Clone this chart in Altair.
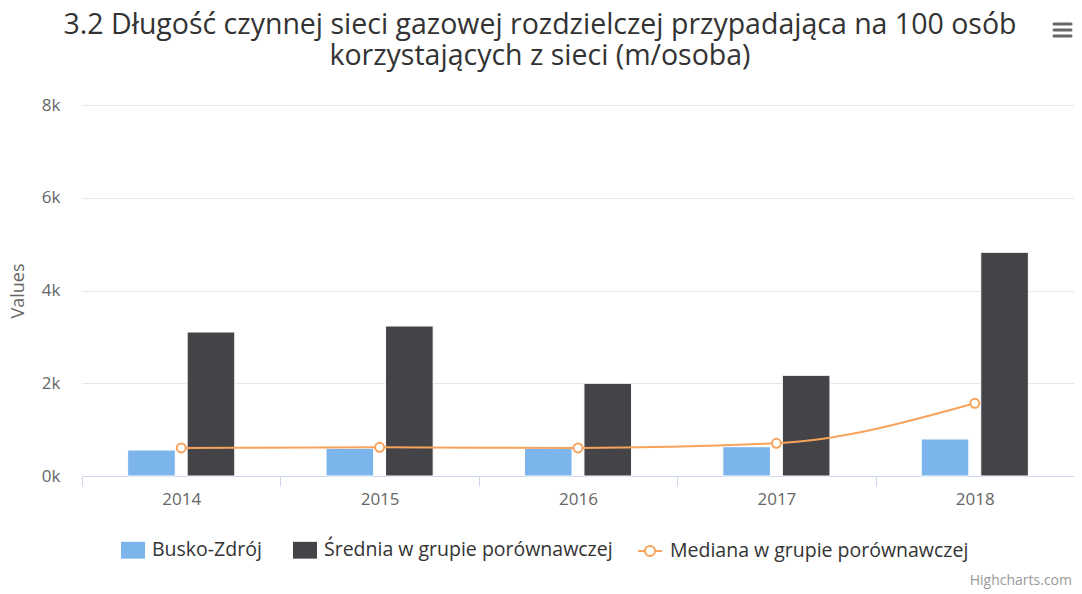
import altair as alt
import pandas as pd

years = ["2014", "2015", "2016", "2017", "2018"]
busko = [560, 597, 593, 632, 798]
srednia = [3105, 3234, 1999, 2171, 4823]
mediana = [604, 619, 604, 705, 1567]

S_BUSKO = "Busko-Zdrój"
S_SRED = "Średnia w grupie porównawczej"
S_MED = "Mediana w grupie porównawczej"
bar_names = [S_BUSKO, S_SRED]
bar_colors = ["#7cb5ec", "#434348"]
med_color = "#f7a35c"

title_lines = [
    "3.2 Długość czynnej sieci gazowej rozdzielczej przypadająca na 100 osób",
    "korzystających z sieci (m/osoba)",
]

rows = []
for name, vals in [(S_BUSKO, busko), (S_SRED, srednia), (S_MED, mediana)]:
    for y, v in zip(years, vals):
        rows.append({"year": y, "series": name, "value": v})
df = pd.DataFrame(rows)

FONT = "Open Sans"

rectsym = "M-1,-0.7L1,-0.7L1,0.7L-1,0.7Z"
medsym = "M-1,0L-0.42,0M0.42,0L1,0M0.42,0A0.42,0.42,0,1,1,-0.42,0A0.42,0.42,0,1,1,0.42,0Z"

legend_common = dict(
    title=None,
    orient="none",
    legendY=433,
    direction="horizontal",
    symbolSize=576,
    labelFontSize=19.5,
    labelFont=FONT,
    labelColor="#333333",
    labelOffset=7,
    labelLimit=500,
    padding=0,
)

legend_bars = alt.Legend(
    legendX=39,
    symbolType=rectsym,
    symbolStrokeWidth=0,
    columnPadding=31,
    **legend_common,
)

legend_med = alt.Legend(
    legendX=555,
    symbolType=medsym,
    symbolFillColor="#ffffff",
    symbolStrokeColor=med_color,
    symbolStrokeWidth=2,
    **legend_common,
)

color = alt.Color(
    "series:N",
    scale=alt.Scale(domain=bar_names, range=bar_colors),
    legend=legend_bars,
)
med_scale = alt.Scale(domain=[S_MED], range=[med_color])

x_enc = alt.X(
    "year:N",
    title=None,
    scale=alt.Scale(paddingInner=0, paddingOuter=0),
    axis=alt.Axis(
        labelAngle=0,
        labelColor="#666666",
        labelFontSize=17,
        labelFont=FONT,
        labelPadding=5,
        tickBand="extent",
        ticks=True,
        tickSize=10,
        tickColor="#ccd6eb",
        domainColor="#ccd6eb",
        grid=False,
    ),
)

y_enc = alt.Y(
    "value:Q",
    title="Values",
    scale=alt.Scale(domain=[0, 8000], nice=False),
    axis=alt.Axis(
        values=[0, 2000, 4000, 6000, 8000],
        labelExpr="datum.value / 1000 + 'k'",
        domain=False,
        ticks=False,
        gridColor="#e6e6e6",
        labelColor="#666666",
        labelFontSize=17,
        labelFont=FONT,
        labelPadding=22,
        titleColor="#666666",
        titleFontSize=18,
        titleFont=FONT,
        titleFontWeight="normal",
        titlePadding=14,
    ),
)

bars = alt.Chart(df).transform_filter(
    alt.FieldOneOfPredicate(field="series", oneOf=bar_names)
).mark_bar(stroke="#ffffff", strokeWidth=1).encode(
    x=x_enc,
    xOffset=alt.XOffset(
        "series:N",
        scale=alt.Scale(domain=bar_names, paddingInner=0.2, paddingOuter=0.7667),
    ),
    y=y_enc,
    color=color,
)

line = alt.Chart(df).transform_filter(
    alt.FieldEqualPredicate(field="series", equal=S_MED)
).mark_line(interpolate="monotone", strokeWidth=2).encode(
    x=x_enc, y=y_enc, stroke=alt.Stroke("series:N", scale=med_scale, legend=legend_med)
)

points = alt.Chart(df).transform_filter(
    alt.FieldEqualPredicate(field="series", equal=S_MED)
).mark_point(filled=False, fill="#ffffff", fillOpacity=1, strokeWidth=2, size=80, opacity=1).encode(
    x=x_enc, y=y_enc, stroke=alt.Stroke("series:N", scale=med_scale, legend=None)
)

title = alt.Chart(pd.DataFrame({"t": ["\n".join(title_lines)]})).mark_text(
    align="center", baseline="alphabetic", fontSize=28.5, font=FONT, color="#333333",
    lineBreak="\n", lineHeight=31,
).encode(text="t:N", x=alt.value(458), y=alt.value(-71))

credit = alt.Chart(pd.DataFrame({"t": ["Highcharts.com"]})).mark_text(
    align="right", baseline="alphabetic", fontSize=14, font=FONT, color="#999999"
).encode(text="t:N", x=alt.value(990), y=alt.value(480))

menu_bars = [
    alt.Chart(pd.DataFrame({"k": [0]})).mark_rule(
        color="#666666", strokeWidth=3, strokeCap="round"
    ).encode(x=alt.value(972), x2=alt.value(989), y=alt.value(yy))
    for yy in (-81, -75, -69)
]

chart = alt.layer(bars, line, points, title, credit, *menu_bars).resolve_scale(
    color="independent", stroke="independent"
).properties(
    width=992,
    height=371,
    padding={"left": 74, "top": 97, "right": 0, "bottom": 116},
    autosize=alt.AutoSizeParams(type="none"),
).configure_view(stroke=None)

chart.save("out.html", embed_options={"renderer": "svg", "actions": False})
